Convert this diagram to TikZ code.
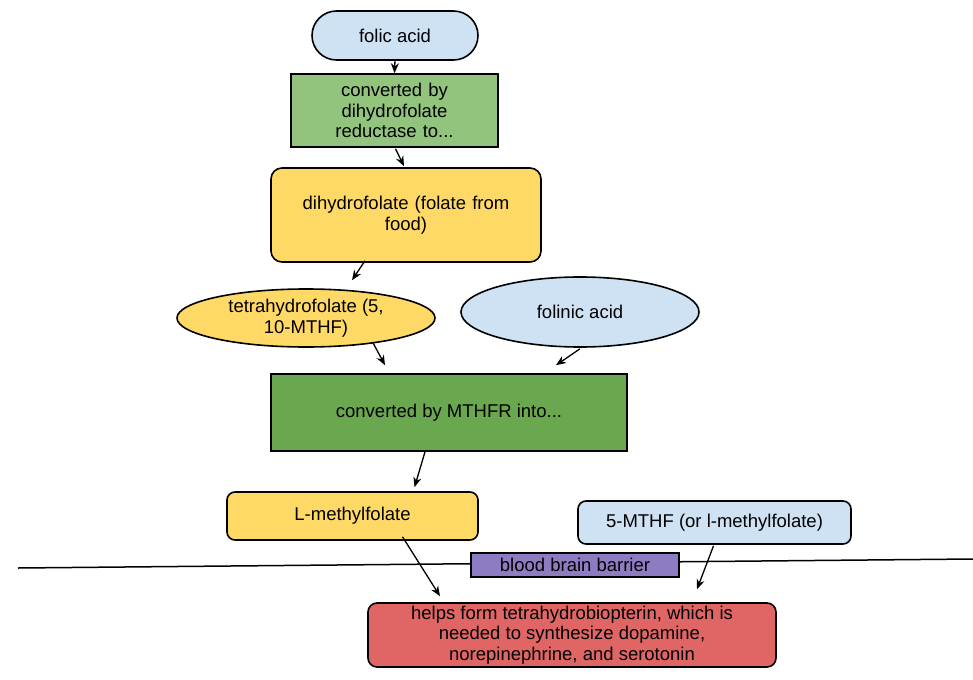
\documentclass[tikz,border=0pt]{standalone}
\usepackage{fontspec}
\setmainfont{Liberation Sans}
\usetikzlibrary{shapes.geometric,shapes.misc,arrows.meta,calc}
\definecolor{lblue}{HTML}{CFE2F3}
\definecolor{lgreen}{HTML}{93C47D}
\definecolor{dgreen}{HTML}{6AA84F}
\definecolor{lyellow}{HTML}{FFD966}
\definecolor{lpurple}{HTML}{8E7CC3}
\definecolor{lred}{HTML}{E06666}
\begin{document}
\begin{tikzpicture}[x=1pt,y=-1pt,
  every node/.style={font=\fontsize{18.5}{20.5}\selectfont, align=center, inner sep=0pt, line width=1.6pt, draw=black},
  arr/.style={-{Stealth[length=10pt,width=8pt]}, line width=1.3pt},
]
\useasboundingbox (0,0) rectangle (973,679);
\node[fill=lblue, rounded rectangle, minimum width=166pt, minimum height=49pt] (folic) at (395,35.5) {folic acid};
\node[fill=lgreen, minimum width=207pt, minimum height=73pt, text width=200pt] (dhfr) at (394.5,110.5) {converted by\\dihydrofolate\\reductase to...};
\node[fill=lyellow, rounded corners=11pt, minimum width=270pt, minimum height=94pt, text width=250pt] (dhf) at (406,215) {dihydrofolate (folate from\\food)};
\node[fill=lyellow, ellipse, minimum width=258pt, minimum height=58pt] (thf) at (306,318) {tetrahydrofolate (5,\\10-MTHF)};
\node[fill=lblue, ellipse, minimum width=238pt, minimum height=70pt] (folinic) at (580,312) {folinic acid};
\node[fill=dgreen, minimum width=356pt, minimum height=77pt] (mthfr) at (449,412.5) {converted by MTHFR into...};
\node[fill=lyellow, rounded corners=8pt, minimum width=251pt, minimum height=48pt] (lmf) at (352.5,516) {L-methylfolate};
\node[fill=lblue, rounded corners=8pt, minimum width=273pt, minimum height=43pt] (mthf) at (714.5,522.5) {5-MTHF (or l-methylfolate)};
\coordinate (bl) at (18,568);
\coordinate (br) at (973,559);
\draw[line width=1.5pt] (bl) -- (br);
\node[fill=lpurple, minimum width=208pt, minimum height=24pt] (bbb) at (575,565) {blood brain barrier};
\node[fill=lred, rounded corners=9pt, minimum width=408pt, minimum height=64pt] (bh4) at (572,635) {helps form tetrahydrobiopterin, which is\\needed to synthesize dopamine,\\norepinephrine, and serotonin};

\draw[arr] ($(folic.south)+(0,-1)$) -- (dhfr.north);
\draw[arr] ($(dhfr.south)+(1,1)$) -- ($(dhf.north)+(-2,-1)$);
\draw[arr] ($(dhf.south)+(-41,-2)$) -- ($(thf.north)+(46,-8)$);
\draw[arr] ($(thf.south)+(67,-5)$) -- ($(mthfr.north)+(-64,-8)$);
\draw[arr] ($(folinic.south)+(0,1)$) -- ($(mthfr.north)+(107,-8)$);
\draw[arr] ($(mthfr.south)+(-24,0)$) -- ($(lmf.north)+(62,-4)$);
\draw[arr] ($(lmf.south)+(50,-4)$) -- ($(bh4.north)+(-132,-6)$);
\draw[arr] ($(mthf.south)+(-1,1)$) -- ($(bh4.north)+(125,-13)$);
\end{tikzpicture}
\end{document}
